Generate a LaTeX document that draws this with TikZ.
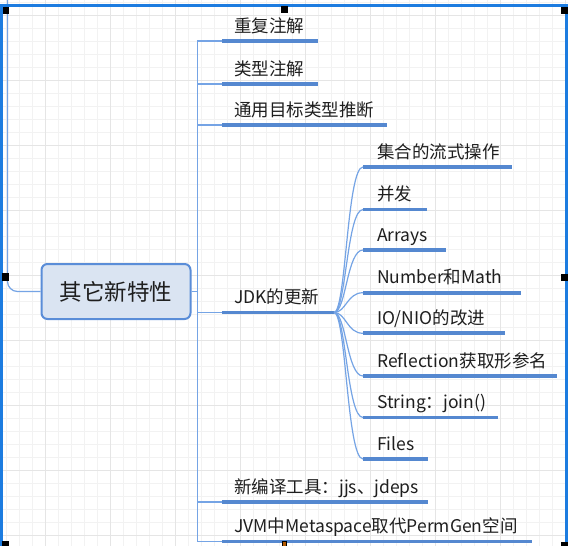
\documentclass[tikz,border=0pt]{standalone}
\usepackage{fontspec}
\setmainfont{Noto Sans CJK SC}

\definecolor{gridminor}{HTML}{F2F2F2}
\definecolor{gridmajor}{HTML}{E5E5E5}
\definecolor{linkblue}{HTML}{75A4E5}
\definecolor{lineblue}{HTML}{5588D0}
\definecolor{rootfill}{HTML}{DAE4F2}
\definecolor{rootdraw}{HTML}{5A8DD8}
\definecolor{selblue}{HTML}{1C7CE0}
\definecolor{textgray}{HTML}{1E1E1E}

\tikzset{
link/.style={draw=linkblue, line width=1.2pt},
uline/.style={draw=lineblue, line width=3.8pt},
topic/.style={anchor=base west, inner sep=0pt, text=textgray, font=\fontsize{17.5}{20}\selectfont}
}

\begin{document}
\begin{tikzpicture}[x=1pt, y=-1pt,
root/.style = {draw=rootdraw, fill=rootfill, line width=2pt, rounded corners=6pt,
  minimum width=149pt, minimum height=55pt, inner sep=0pt, text=textgray,
  font=\fontsize{22.5}{26}\selectfont}]

\useasboundingbox (0,0) rectangle (568,546);
\fill[white] (0,0) rectangle (568,546);

% grid
\foreach \x in {6,19,...,566} \draw[gridminor, line width=1pt] (\x,0) -- (\x,546);
\foreach \y in {2.7,15.7,...,546} \draw[gridminor, line width=1pt] (0,\y) -- (568,\y);
\foreach \x in {45,110,...,566} \draw[gridmajor, line width=1pt] (\x,0) -- (\x,546);
\foreach \y in {15.7,80.7,...,546} \draw[gridmajor, line width=1pt] (0,\y) -- (568,\y);

% root
\node[root] (root) at (116,291.5) {其它新特性};
\coordinate (up) at (7.5,0);
\draw[link, rounded corners=10pt] (root.west) -| (up);

% first level
\coordinate (a1) at (222,41);
\coordinate (a2) at (222,84);
\coordinate (a3) at (222,125);
\coordinate (a4) at (222,312.5);
\coordinate (a5) at (222,502);
\coordinate (a6) at (222,541.5);

\draw[link] (root.east) -- ++(6,0) |- (a1);
\draw[link] (root.east) -- ++(6,0) |- (a2);
\draw[link] (root.east) -- ++(6,0) |- (a3);
\draw[link] (root.east) -- ++(6,0) |- (a4);
\draw[link] (root.east) -- ++(6,0) |- (a5);
\draw[link] (root.east) -- ++(6,0) |- (a6);

\node[topic] (t1) at (234,32) {重复注解};
\node[topic] (t2) at (234,75) {类型注解};
\node[topic] (t3) at (234,116) {通用目标类型推断};
\node[topic] (t4) at (234,303.5) {JDK的更新};
\node[topic] (t5) at (234,493) {新编译工具：jjs、jdeps};
\node[topic] (t6) at (234,532.5) {JVM中Metaspace取代PermGen空间};

\draw[uline] (a1) -- (318,41);
\draw[uline] (a2) -- (318,84);
\draw[uline] (a3) -- (387,125);
\coordinate (j) at (334,312.5);
\draw[uline] (a4) -- (j);
\draw[uline] (a5) -- (428,502);
\draw[uline] (a6) -- (532,541.5);

% JDK
\coordinate (b1) at (363,167);
\coordinate (b2) at (363,209.5);
\coordinate (b3) at (363,250);
\coordinate (b4) at (363,292.7);
\coordinate (b5) at (363,333.3);
\coordinate (b6) at (363,376);
\coordinate (b7) at (363,417.5);
\coordinate (b8) at (363,459);

\draw[link] (j) .. controls +(12,0) and +(-16,0) .. (b1);
\draw[link] (j) .. controls +(12,0) and +(-16,0) .. (b2);
\draw[link] (j) .. controls +(12,0) and +(-16,0) .. (b3);
\draw[link] (j) .. controls +(12,0) and +(-16,0) .. (b4);
\draw[link] (j) .. controls +(12,0) and +(-16,0) .. (b5);
\draw[link] (j) .. controls +(12,0) and +(-16,0) .. (b6);
\draw[link] (j) .. controls +(12,0) and +(-16,0) .. (b7);
\draw[link] (j) .. controls +(12,0) and +(-16,0) .. (b8);

\node[topic] (s1) at (377,158) {集合的流式操作};
\node[topic] (s2) at (377,200.5) {并发};
\node[topic] (s3) at (377,241) {Arrays};
\node[topic] (s4) at (377,283.7) {Number和Math};
\node[topic] (s5) at (377,324.3) {IO/NIO的改进};
\node[topic] (s6) at (377,367) {Reflection获取形参名};
\node[topic] (s7) at (377,408.5) {String：join()};
\node[topic] (s8) at (377,450) {Files};

\draw[uline] (b1) -- (512,167);
\draw[uline] (b2) -- (427,209.5);
\draw[uline] (b3) -- (446,250);
\draw[uline] (b4) -- (521,292.7);
\draw[uline] (b5) -- (505,333.3);
\draw[uline] (b6) -- (557,376);
\draw[uline] (b7) -- (498,417.5);
\draw[uline] (b8) -- (428,459);

% selection frame
\draw[selblue, line width=2.6pt] (1.3,546) -- (1.3,5.3) -- (566.7,5.3) -- (566.7,546);
\fill[black] (2.5,7) rectangle (9,13.5);
\fill[black] (281,6) rectangle (288,13);
\fill[black] (561,7) rectangle (567.5,13.5);
\fill[black] (1.5,273) rectangle (8.5,281);
\fill[black] (561,274) rectangle (567.5,281);
\fill[black] (1.5,541) rectangle (9,548);
\filldraw[fill=orange!70!black, draw=black, line width=0.6pt] (282,541.5) rectangle (286,547);
\fill[black] (561,541.5) rectangle (568,548);
\end{tikzpicture}
\end{document}
